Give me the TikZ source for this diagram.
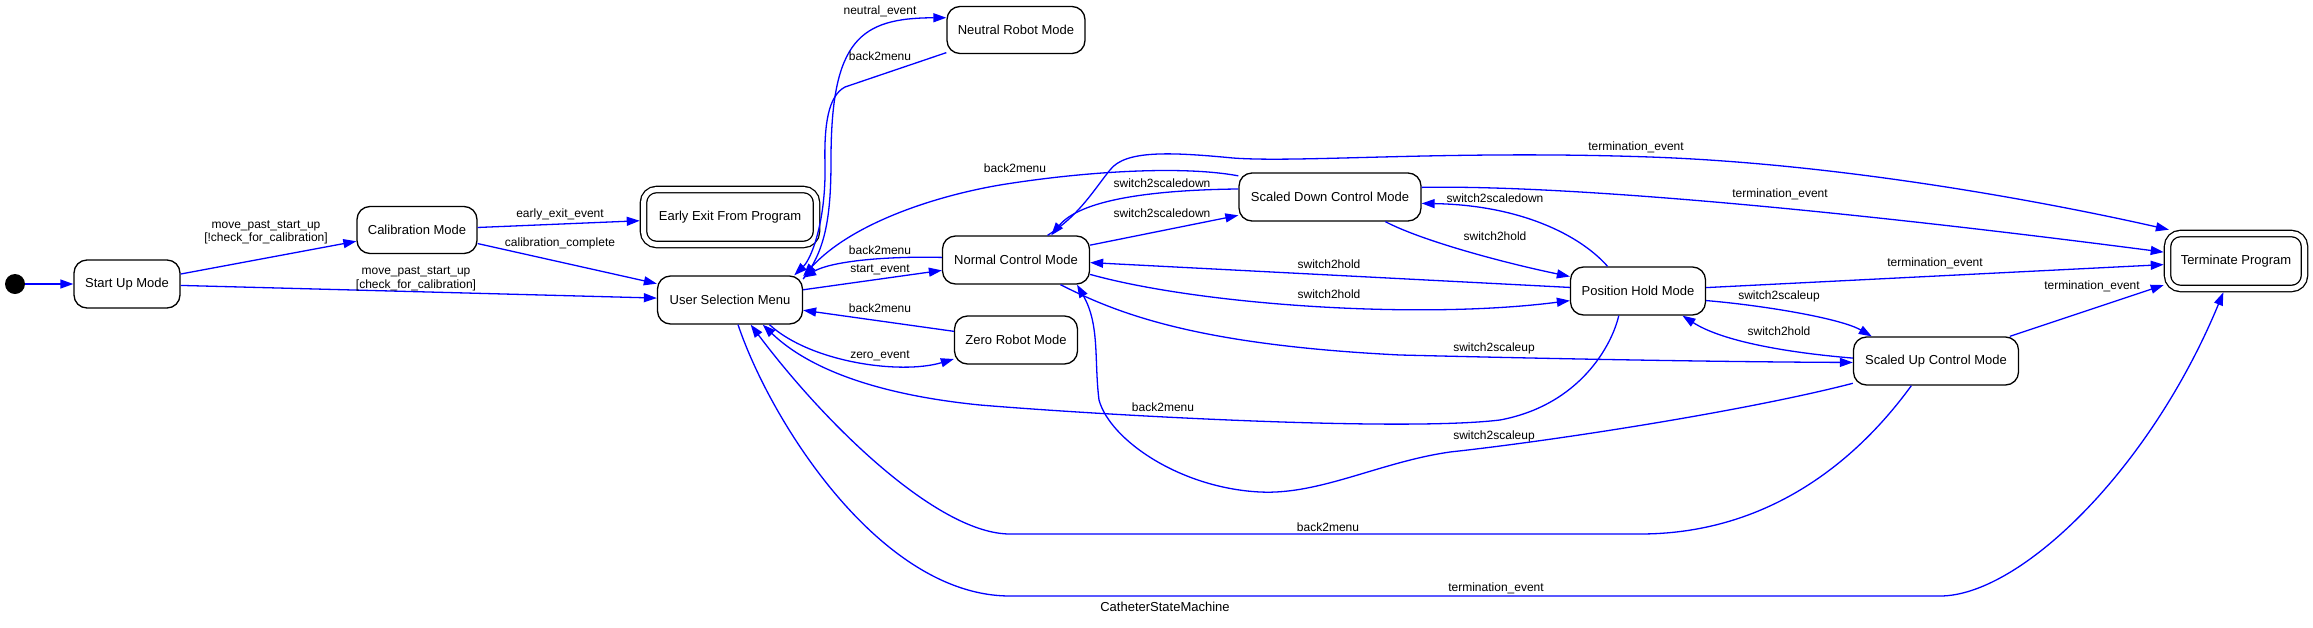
\documentclass[tikz,border=0pt]{standalone}
\usepackage{fontspec}
\setmainfont{Liberation Sans}
\usetikzlibrary{arrows.meta}
\newcommand\nodefont{\fontsize{13}{15}\selectfont}
\newcommand\labfont{\fontsize{12}{13.5}\selectfont}
\begin{document}
\begin{tikzpicture}[x=1pt,y=-1pt,
  state/.style={draw=black, line width=1.3pt, rounded corners=13pt, fill=white, font=\nodefont, inner sep=0pt, minimum height=48pt},
  finalstate/.style={state, double=white, double distance=5pt, outer sep=3.8pt, minimum height=55pt},
  initstate/.style={circle, fill=black, minimum size=20pt, inner sep=0pt},
  tr/.style={draw=blue, line width=1.3pt, -{Triangle[length=13pt,width=9pt]}},
  lab/.style={font=\labfont, inner sep=0pt, align=center},
]
\useasboundingbox (0,0) rectangle (2313,627);
% states
\node[initstate] (init) at (15,284) {};
\node[state, minimum width=106pt] (startup) at (127,284) {Start Up Mode};
\node[state, minimum width=120pt, minimum height=47pt] (calib) at (417,230) {Calibration Mode};
\node[finalstate, minimum width=173pt] (early) at (730,217) {Early Exit From Program};
\node[state, minimum width=145pt] (user) at (730,300) {User Selection Menu};
\node[state, minimum width=147pt] (normal) at (1016,260) {Normal Control Mode};
\node[state, minimum width=123pt] (zero) at (1016,340) {Zero Robot Mode};
\node[state, minimum width=138pt, minimum height=47pt] (neutral) at (1016,30) {Neutral Robot Mode};
\node[state, minimum width=182pt] (sdown) at (1330,197) {Scaled Down Control Mode};
\node[state, minimum width=135pt] (hold) at (1638,291) {Position Hold Mode};
\node[state, minimum width=165pt] (sup) at (1936,361) {Scaled Up Control Mode};
\node[finalstate, minimum width=137pt] (term) at (2236,261) {Terminate Program};
% transitions
\draw[tr] (init) -- (startup);
\draw[tr] (startup) -- (calib);
\draw[tr] (startup) -- (user);
\draw[tr] (calib) -- (early);
\draw[tr] (calib) -- (user);
\draw[tr] (user) -- (normal);
\draw[tr] (normal.178) .. controls (880,256) and (830,262) .. (user.17);
\draw[tr] (zero) -- (user);
\draw[tr] (user.328) .. controls (810,362) and (900,375) .. (zero.197);
\draw[tr] (user.16) .. controls (826,250) and (831,215) .. (831,160) .. controls (831,40) and (860,18) .. (neutral.170);
\draw[tr] (neutral.198) -- (845,87) .. controls (828,96) and (824,125) .. (825,165) .. controls (826,220) and (812,258) .. (user.21);
\draw[tr] (sdown.167) .. controls (1180,165) and (1080,172) .. (1000,185) .. controls (930,197) and (850,225) .. (user.18);
\draw[tr] (normal) -- (sdown);
\draw[tr] (sdown.175) .. controls (1150,190) and (1080,200) .. (normal.35);
\draw[tr] (normal.38) .. controls (1080,215) and (1095,188) .. (1110,170) .. controls (1125,150) and (1170,152) .. (1233,158) .. controls (1300,163) and (1450,150) .. (1650,157) .. controls (1850,164) and (2060,205) .. (term.155);
\draw[tr] (sdown.6) .. controls (1550,185) and (1800,205) .. (term.173);
\draw[tr] (hold.141) .. controls (1580,235) and (1520,205) .. (sdown.356);
\draw[tr] (sdown.336) .. controls (1420,240) and (1500,262) .. (hold.168);
\draw[tr] (hold.177) -- (normal.358);
\draw[tr] (normal.349) .. controls (1200,305) and (1420,320) .. (hold.188);
\draw[tr] (hold) -- (term);
\draw[tr] (hold.352) .. controls (1760,305) and (1840,318) .. (sup.159);
\draw[tr] (sup.178) .. controls (1780,352) and (1720,340) .. (hold.331);
\draw[tr] (normal.331) .. controls (1120,315) and (1200,345) .. (1400,355) .. controls (1600,360) and (1750,362) .. (sup.181);
\draw[tr] (sup) -- (term);
\draw[tr] (hold.232) .. controls (1612,345) and (1580,405) .. (1500,420) .. controls (1400,432) and (1100,415) .. (980,405) .. controls (880,395) and (810,370) .. (user.323);
\draw[tr] (sup.195) .. controls (1750,410) and (1560,440) .. (1450,452) .. controls (1380,462) and (1320,495) .. (1260,492) .. controls (1180,488) and (1110,440) .. (1099,400) .. controls (1094,360) and (1100,325) .. (normal.338);
\draw[tr] (sup.225) .. controls (1850,470) and (1760,534) .. (1640,534) -- (1010,534) .. controls (940,534) and (830,430) .. (user.310);
\draw[tr] (user.288) .. controls (770,420) and (880,596) .. (1010,596) -- (1940,596) .. controls (2020,596) and (2150,470) .. (term.248);
% labels
\node[lab] (l1) at (266,232.5) {move\_past\_start\_up\\{}[!check\_for\_calibration]};
\node[lab] (l2) at (416,279) {move\_past\_start\_up\\{}[check\_for\_calibration]};
\node[lab] (l3) at (560,214) {early\_exit\_event};
\node[lab] (l4) at (560,243) {calibration\_complete};
\node[lab] (l5) at (880,11) {neutral\_event};
\node[lab] (l6) at (880,56) {back2menu};
\node[lab] (l7) at (880,250) {back2menu};
\node[lab] (l8) at (880,270) {start\_event};
\node[lab] (l9) at (880,308) {back2menu};
\node[lab] (l10) at (880,356) {zero\_event};
\node[lab] (l11) at (1015,168) {back2menu};
\node[lab] (l12) at (1162,183) {switch2scaledown};
\node[lab] (l13) at (1162,213) {switch2scaledown};
\node[lab] (l14) at (1495,198) {switch2scaledown};
\node[lab] (l15) at (1495,236) {switch2hold};
\node[lab] (l16) at (1329,264) {switch2hold};
\node[lab] (l17) at (1329,294) {switch2hold};
\node[lab] (l18) at (1636,147) {termination\_event};
\node[lab] (l19) at (1780,194) {termination\_event};
\node[lab] (l20) at (1935,263) {termination\_event};
\node[lab] (l21) at (2092,286) {termination\_event};
\node[lab] (l22) at (1779,296) {switch2scaleup};
\node[lab] (l23) at (1779,331) {switch2hold};
\node[lab] (l24) at (1494,348) {switch2scaleup};
\node[lab] (l25) at (1163,407) {back2menu};
\node[lab] (l26) at (1494,436) {switch2scaleup};
\node[lab] (l27) at (1328,527) {back2menu};
\node[lab] (l28) at (1496,588) {termination\_event};
\node[font=\nodefont, inner sep=0pt] (title) at (1165,607) {CatheterStateMachine};
\end{tikzpicture}
\end{document}
